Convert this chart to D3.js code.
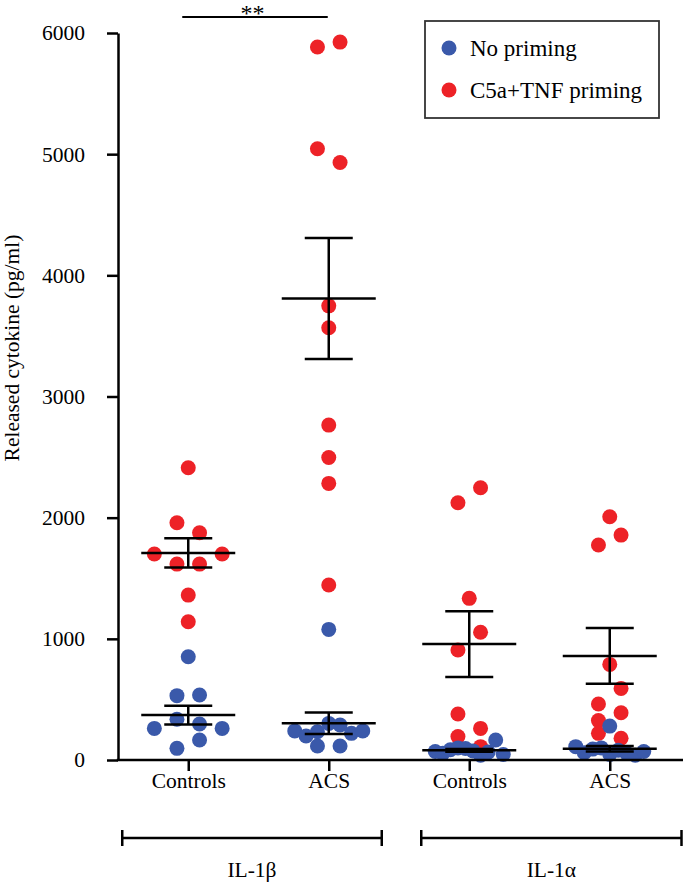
<!DOCTYPE html>
<html><head><meta charset="utf-8">
<script src="https://cdn.jsdelivr.net/npm/d3@7/dist/d3.min.js"></script>
<style>
html,body{margin:0;padding:0;background:#fff;}
svg{display:block;font-family:"Liberation Serif","Times New Roman",serif;}
</style></head>
<body>
<svg id="chart" width="683" height="889"></svg>
<script>
// ---- data ----
const categories = ["Controls", "ACS", "Controls", "ACS"];
const groupLabels = ["IL-1\u03B2", "IL-1\u03B1"];
const seriesNames = ["No priming", "C5a+TNF priming"];
const yTicks = [0, 1000, 2000, 3000, 4000, 5000, 6000];

// C5a+TNF priming (red)
const ctrlBetaRed  = [2412, 1958, 1875, 1700, 1617, 1617, 1700, 1361, 1141];
const acsBetaRed   = [5885, 5925, 5045, 4931, 3748, 3567, 2764, 2497, 2283, 1444];
const ctrlAlphaRed = [2123, 2247, 1334, 908, 1054, 380, 261, 193, 110];
const acsAlphaRed  = [2007, 1774, 1856, 789, 462, 591, 325, 390, 220, 179];
// No priming (blue)
const ctrlBetaBlue  = [852, 531, 536, 261, 336, 297, 261, 96, 165];
const acsBetaBlue   = [1078, 240, 198, 233, 302, 289, 220, 240, 116, 116];
const ctrlAlphaBlue = [70, 55, 85, 100, 95, 75, 40, 65, 165, 45];
const acsAlphaBlue  = [280, 110, 60, 90, 100, 45, 80, 55, 40, 70];

const redSeries = [ctrlBetaRed, acsBetaRed, ctrlAlphaRed, acsAlphaRed];
const blueSeries = [ctrlBetaBlue, acsBetaBlue, ctrlAlphaBlue, acsAlphaBlue];

// ---- layout ----
const W = 683, H = 889;
const colors = {blue: "#3a59aa", red: "#ed2227"};
const svg = d3.select("#chart");
const keys = categories.map((c, i) => i);
const x = d3.scalePoint().domain(keys).range([118, 680]).padding(0.5);
const y = d3.scaleLinear().domain([0, 6000]).range([760, 33]);
const R = 7.5;

function swarm(values, cx) {
  const order = values.map((v, i) => i).sort((a, b) => values[b] - values[a] || a - b);
  const rows = [];
  let cur = null;
  order.forEach(i => {
    const py = y(values[i]);
    if (cur && py - cur.start < 18) cur.items.push(i);
    else { cur = {start: py, items: [i]}; rows.push(cur); }
  });
  const out = new Array(values.length);
  rows.forEach(r => {
    r.items.sort((a, b) => a - b);
    const n = r.items.length;
    const sp = n > 1 ? Math.min(22.6, 68 / (n - 1)) : 0;
    r.items.forEach((i, k) => { out[i] = {x: cx + (k - (n - 1) / 2) * sp, y: y(values[i])}; });
  });
  return out;
}

// points: red first, blue on top
const gPts = svg.append("g");
[[redSeries, colors.red], [blueSeries, colors.blue]].forEach(([ser, col]) => {
  ser.forEach((vals, ci) => {
    const pts = swarm(vals, x(ci));
    gPts.append("g").selectAll("circle").data(pts).join("circle")
      .attr("cx", d => d.x).attr("cy", d => d.y).attr("r", R).attr("fill", col);
  });
});

// mean +/- SEM
const gErr = svg.append("g").attr("stroke", "#000").attr("stroke-width", 2.5).attr("fill", "none");
[redSeries, blueSeries].forEach(ser => {
  ser.forEach((vals, ci) => {
    const m = d3.mean(vals);
    const sem = d3.deviation(vals) / Math.sqrt(vals.length);
    const cx = x(ci);
    gErr.append("line").attr("x1", cx - 47).attr("x2", cx + 47).attr("y1", y(m)).attr("y2", y(m));
    gErr.append("line").attr("x1", cx).attr("x2", cx).attr("y1", y(m - sem)).attr("y2", y(m + sem));
    [m - sem, m + sem].forEach(v => {
      gErr.append("line").attr("x1", cx - 24).attr("x2", cx + 24).attr("y1", y(v)).attr("y2", y(v));
    });
  });
});

// y axis
const yAxis = svg.append("g").attr("transform", `translate(${x.range()[0]},0)`)
  .call(d3.axisLeft(y).tickValues(yTicks).tickFormat(d3.format("d")).tickSize(11).tickSizeOuter(0).tickPadding(22));
yAxis.select(".domain").attr("stroke-width", 2.5);
yAxis.selectAll(".tick line").attr("stroke-width", 2.5);
yAxis.selectAll("text").attr("font-size", 21.5).attr("font-family", "Liberation Serif").attr("fill", "#000");

// x axis
const xAxis = svg.append("g").attr("transform", `translate(0,${y(0)})`)
  .call(d3.axisBottom(x).tickFormat(i => categories[i]).tickSize(11).tickSizeOuter(0).tickPadding(2));
xAxis.select(".domain").remove();
xAxis.append("line").attr("x1", x.range()[0] - 1.25).attr("x2", W).attr("y1", 0).attr("y2", 0)
  .attr("stroke", "#000").attr("stroke-width", 2.5);
xAxis.selectAll(".tick line").attr("stroke-width", 2.5);
xAxis.selectAll("text").attr("font-size", 21.5).attr("font-family", "Liberation Serif").attr("fill", "#000");

// y label
svg.append("text").attr("transform", "translate(19,348) rotate(-90)")
  .attr("text-anchor", "middle").attr("font-size", 21.5).text("Released cytokine (pg/ml)");

// group brackets
const brY = 838;
const brackets = [
  {x1: x(0) - 66, x2: x(1) + 53, label: groupLabels[0]},
  {x1: x(2) - 48, x2: W - 1.5, label: groupLabels[1]}
];
const gBr = svg.append("g").attr("stroke", "#000").attr("stroke-width", 2.5);
brackets.forEach(b => {
  gBr.append("line").attr("x1", b.x1).attr("x2", b.x2).attr("y1", brY).attr("y2", brY);
  gBr.append("line").attr("x1", b.x1).attr("x2", b.x1).attr("y1", brY - 8).attr("y2", brY + 8);
  gBr.append("line").attr("x1", b.x2).attr("x2", b.x2).attr("y1", brY - 8).attr("y2", brY + 8);
  svg.append("text").attr("x", (b.x1 + b.x2) / 2).attr("y", brY + 39).attr("text-anchor", "middle")
    .attr("font-size", 21.5).text(b.label);
});

// significance
svg.append("line").attr("x1", x(0) - 6).attr("x2", x(1) - 1).attr("y1", 17).attr("y2", 17)
  .attr("stroke", "#000").attr("stroke-width", 2);
svg.append("text").attr("x", (x(0) + x(1)) / 2 - 6).attr("y", 21).attr("text-anchor", "middle")
  .attr("font-size", 24).text("**");

// legend
const lg = svg.append("g").attr("transform", "translate(425,21)");
lg.append("rect").attr("width", 234).attr("height", 97).attr("fill", "#fff")
  .attr("stroke", "#333").attr("stroke-width", 1.8);
[[seriesNames[0], colors.blue], [seriesNames[1], colors.red]].forEach(([name, col], i) => {
  lg.append("circle").attr("cx", 24).attr("cy", 27 + i * 42).attr("r", R).attr("fill", col);
  lg.append("text").attr("x", 45).attr("y", 35 + i * 42).attr("font-size", 23).text(name);
});
</script>
</body></html>
